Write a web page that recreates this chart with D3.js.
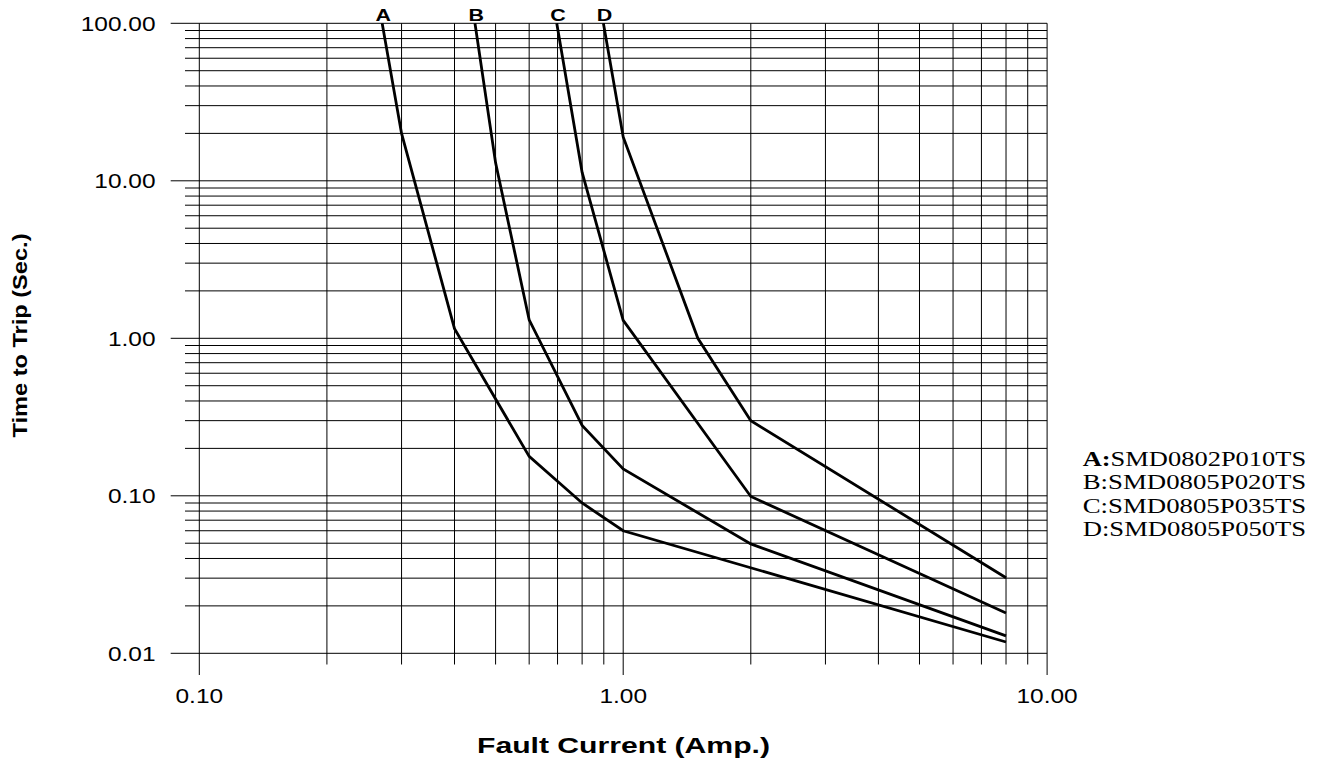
<!DOCTYPE html>
<html>
<head>
<meta charset="utf-8">
<script src="https://cdn.jsdelivr.net/npm/d3@7"></script>
<style>
  body { margin: 0; background: #fff; }
  svg { display: block; }
</style>
</head>
<body>
<script>
// trip curves: [fault current (A), time to trip (s)]
const curveA = [[0.27, 100], [0.3, 20], [0.4, 1.15], [0.6, 0.178], [0.8, 0.09], [1.0, 0.06], [8, 0.0118]];
const curveB = [[0.447, 100], [0.5, 13], [0.6, 1.31], [0.8, 0.28], [1.0, 0.148], [2.0, 0.0495], [8, 0.0129]];
const curveC = [[0.697, 100], [0.8, 11.3], [1.0, 1.3], [2.0, 0.099], [8, 0.018]];
const curveD = [[0.898, 100], [1.0, 19], [1.5, 1.0], [2.0, 0.3], [8, 0.0302]];

const curveNames = ['A', 'B', 'C', 'D'];
const partNumbers = ['SMD0802P010TS', 'SMD0805P020TS', 'SMD0805P035TS', 'SMD0805P050TS'];

const xTickValues = [0.1, 1, 10];
const xTickLabels = ['0.10', '1.00', '10.00'];
const yTickValues = [0.01, 0.1, 1, 10, 100];
const yTickLabels = ['0.01', '0.10', '1.00', '10.00', '100.00'];

const xAxisLabelText = 'Fault Current (Amp.)';
const yAxisLabelText = 'Time to Trip (Sec.)';

const render = () => {
  const width = 1322;
  const height = 761;

  const svg = d3.select('body').append('svg')
    .attr('width', width)
    .attr('height', height);

  // log scales for both axes
  const xScale = d3.scaleLog().domain([0.1, 10]).range([199.3, 1047.1]);
  const yScale = d3.scaleLog().domain([0.01, 100]).range([653.3, 23.3]);

  const isDecade = v => Math.abs(Math.log10(v) - Math.round(Math.log10(v))) < 1e-9;

  const grid = svg.append('g')
    .attr('stroke', '#000')
    .attr('stroke-width', 1)
    .attr('fill', 'none');

  // horizontal grid, decade lines stick out further to the left
  grid.selectAll('line.h').data(yScale.ticks())
    .enter().append('line')
    .attr('class', 'h')
    .attr('x1', d => isDecade(d) ? 170.7 : 185)
    .attr('x2', xScale.range()[1])
    .attr('y1', d => yScale(d))
    .attr('y2', d => yScale(d));

  // vertical grid, decade lines go further down
  grid.selectAll('line.v').data(xScale.ticks())
    .enter().append('line')
    .attr('class', 'v')
    .attr('x1', d => xScale(d))
    .attr('x2', d => xScale(d))
    .attr('y1', yScale.range()[1])
    .attr('y2', d => isDecade(d) ? 675 : 664.5);

  // tick labels
  const tickFont = 'Liberation Sans, Arial, sans-serif';
  const labelLen = s => 13.6 * (s.length - 1) + 6.8;

  svg.append('g').selectAll('text').data(yTickValues)
    .enter().append('text')
    .attr('x', 155.5)
    .attr('y', d => yScale(d) + 7.4)
    .attr('text-anchor', 'end')
    .attr('font-family', tickFont)
    .attr('font-size', 20)
    .attr('textLength', (d, i) => labelLen(yTickLabels[i]))
    .attr('lengthAdjust', 'spacingAndGlyphs')
    .text((d, i) => yTickLabels[i]);

  svg.append('g').selectAll('text').data(xTickValues)
    .enter().append('text')
    .attr('x', d => xScale(d))
    .attr('y', 702.6)
    .attr('text-anchor', 'middle')
    .attr('font-family', tickFont)
    .attr('font-size', 20)
    .attr('textLength', (d, i) => labelLen(xTickLabels[i]))
    .attr('lengthAdjust', 'spacingAndGlyphs')
    .text((d, i) => xTickLabels[i]);

  // axis titles
  svg.append('text')
    .attr('x', 623.5)
    .attr('y', 752.5)
    .attr('text-anchor', 'middle')
    .attr('font-family', tickFont)
    .attr('font-weight', 'bold')
    .attr('font-size', 22)
    .attr('textLength', 293)
    .attr('lengthAdjust', 'spacingAndGlyphs')
    .text(xAxisLabelText);

  svg.append('text')
    .attr('transform', 'translate(26.7, 335.5) rotate(-90)')
    .attr('text-anchor', 'middle')
    .attr('font-family', tickFont)
    .attr('font-weight', 'bold')
    .attr('font-size', 21)
    .attr('textLength', 204)
    .attr('lengthAdjust', 'spacingAndGlyphs')
    .text(yAxisLabelText);

  // the four trip curves
  const line = d3.line()
    .x(d => xScale(d[0]))
    .y(d => yScale(d[1]));

  const curves = [curveA, curveB, curveC, curveD];

  svg.append('g').selectAll('path').data(curves)
    .enter().append('path')
    .attr('d', line)
    .attr('fill', 'none')
    .attr('stroke', '#000')
    .attr('stroke-width', 2.8);

  // curve letters above the first point of each curve
  svg.append('g').selectAll('text').data(curves)
    .enter().append('text')
    .attr('x', d => xScale(d[0][0]) + 1.2)
    .attr('y', 21)
    .attr('text-anchor', 'middle')
    .attr('font-family', tickFont)
    .attr('font-weight', 'bold')
    .attr('font-size', 16)
    .attr('textLength', 15.5)
    .attr('lengthAdjust', 'spacingAndGlyphs')
    .text((d, i) => curveNames[i]);

  // legend with part numbers
  const legend = svg.append('g')
    .attr('font-family', 'Liberation Serif, Times New Roman, serif')
    .attr('font-size', 21)
    .attr('fill', '#000');

  const rows = legend.selectAll('text').data(partNumbers)
    .enter().append('text')
    .attr('x', 1082.7)
    .attr('y', (d, i) => 466 + i * 23.4)
    .attr('textLength', 223.5)
    .attr('lengthAdjust', 'spacingAndGlyphs');

  rows.append('tspan')
    .attr('font-weight', (d, i) => i === 0 ? 'bold' : 'normal')
    .text((d, i) => curveNames[i] + ':');

  rows.append('tspan')
    .text(d => d);
};

render();
</script>
</body>
</html>
